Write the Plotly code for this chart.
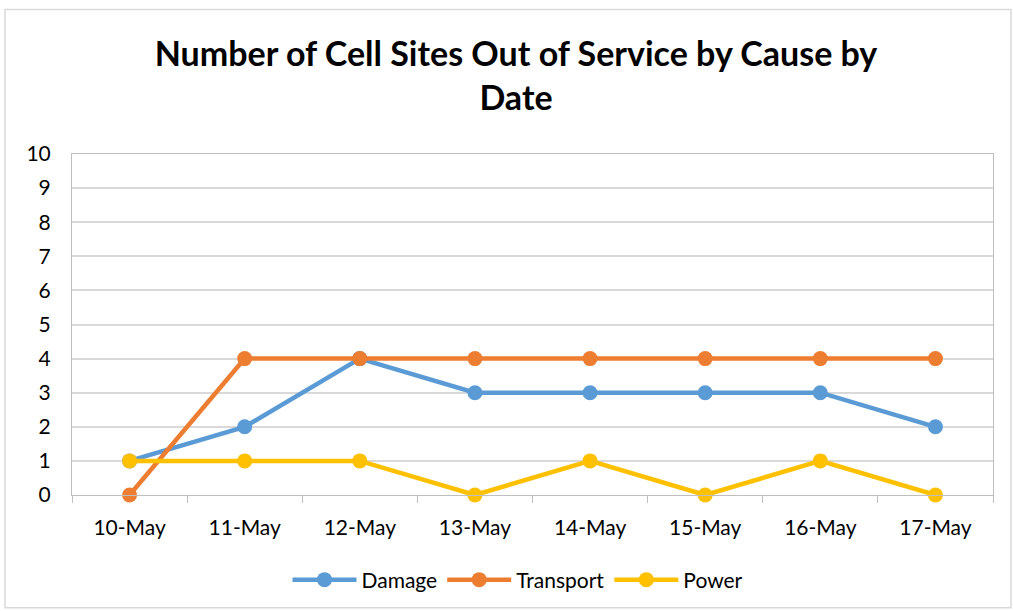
import plotly.graph_objects as go

dates = ["10-May", "11-May", "12-May", "13-May", "14-May", "15-May", "16-May", "17-May"]
damage = [1, 2, 4, 3, 3, 3, 3, 2]
transport = [0, 4, 4, 4, 4, 4, 4, 4]
power = [1, 1, 1, 0, 1, 0, 1, 0]

series = [("Damage", damage, "#5B9BD5"), ("Transport", transport, "#ED7D31"), ("Power", power, "#FFC000")]

fig = go.Figure()
for name, vals, col in series:
    fig.add_trace(go.Scatter(x=dates, y=vals, name=name, mode="lines+markers",
                             line=dict(color=col, width=4.5),
                             marker=dict(color=col, size=15), cliponaxis=False))

font = "Lato, 'Open Sans', sans-serif"
W, H = 1013, 611
L, T = 72, 154
R = W - 993
B = H - 496
pw, ph = W - L - R, H - T - B

def px(x):
    return (x - L) / pw

def py(y):
    return (H - B - y) / ph

fig.update_layout(
    width=W, height=H,
    margin=dict(l=L, r=R, t=T, b=B),
    paper_bgcolor="white", plot_bgcolor="white",
    font=dict(family=font, size=21, color="#000000"),
    title=dict(text="<b>Number of Cell Sites Out of Service by Cause by<br>Date</b>",
               x=516 / W, xanchor="center", y=1 - 66 / H, yanchor="top", yref="container",
               font=dict(family=font, size=34, color="#000000")),
    showlegend=True,
    legend=dict(orientation="h", x=px(518), xanchor="center", y=py(580), yanchor="middle",
                font=dict(family=font, size=21), traceorder="normal", itemwidth=64),
    xaxis=dict(type="category", range=[-0.5, 7.5], showgrid=False, showline=True,
               linecolor="#BFBFBF", linewidth=1, mirror=True, ticks="outside",
               tickson="boundaries", ticklen=7, tickcolor="#BFBFBF",
               tickfont=dict(family=font, size=21), ticklabelstandoff=14),
    yaxis=dict(range=[0, 10], dtick=1, showgrid=True, gridcolor="#D9D9D9", gridwidth=1.5,
               showline=True, linecolor="#BFBFBF", linewidth=1, mirror=True, zeroline=False,
               tickfont=dict(family=font, size=21), ticklabelstandoff=16),
    shapes=[dict(type="rect", xref="paper", yref="paper", x0=px(5), x1=px(1011), y0=py(609), y1=py(9),
                 line=dict(color="#D9D9D9", width=1.5), fillcolor="rgba(0,0,0,0)", layer="below")],
)

fig.write_html("out.html", config={"displayModeBar": False},
               post_script="document.body.style.margin='0';")
